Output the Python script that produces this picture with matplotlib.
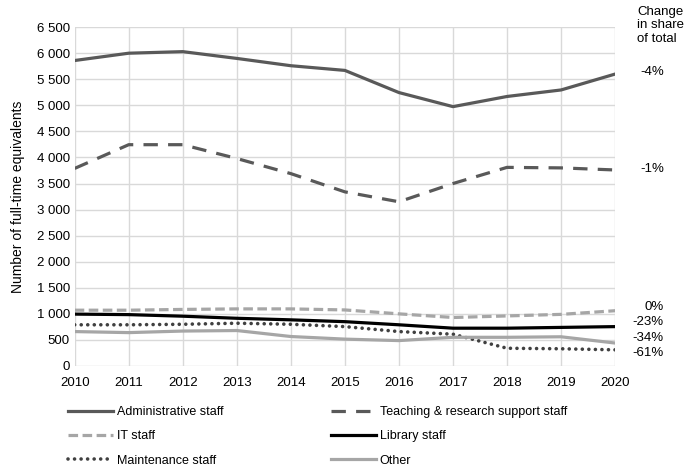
import matplotlib.pyplot as plt
from matplotlib.ticker import FuncFormatter
import matplotlib.transforms as mtransforms

plt.rcParams['font.family'] = ['Liberation Sans', 'DejaVu Sans']

# Data
years = [2010, 2011, 2012, 2013, 2014, 2015, 2016, 2017, 2018, 2019, 2020]
administrative = [5860, 6000, 6030, 5900, 5760, 5670, 5245, 4975, 5170, 5295, 5600]
teaching = [3790, 4245, 4245, 3980, 3690, 3340, 3150, 3500, 3810, 3800, 3760]
it_staff = [1070, 1070, 1085, 1095, 1095, 1075, 1000, 930, 960, 990, 1060]
library = [995, 985, 955, 915, 885, 850, 790, 725, 725, 740, 755]
maintenance = [790, 790, 800, 820, 800, 755, 660, 610, 340, 330, 310]
other = [660, 640, 670, 680, 565, 515, 487, 550, 550, 560, 440]

share_labels = ['-4%', '-1%', '0%', '-23%', '-34%', '-61%']
share_label_y = [5640, 3780, 1130, 840, 540, 250]

fig = plt.figure(figsize=(6.85, 4.68), dpi=100)
ax = fig.add_axes([0.109, 0.218, 0.789, 0.724])

dark = '#595959'
light = '#a6a6a6'
lw = 2.3

h_adm, = ax.plot(years, administrative, color=dark, lw=lw, label='Administrative staff')
h_tea, = ax.plot(years, teaching, color=dark, lw=lw, dashes=(4.5, 3.2), label='Teaching & research support staff')
h_it, = ax.plot(years, it_staff, color=light, lw=lw, dashes=(3, 1.4), label='IT staff')
h_lib, = ax.plot(years, library, color='black', lw=lw, label='Library staff')
h_mai, = ax.plot(years, maintenance, color='#404040', lw=2.6, dashes=(0.01, 1.8),
                 dash_capstyle='round', label='Maintenance staff')
h_oth, = ax.plot(years, other, color=light, lw=lw, label='Other')

ax.set_xlim(2010, 2020)
ax.set_ylim(0, 6500)
ax.set_xticks(years)
ax.set_yticks(range(0, 6501, 500))
ax.yaxis.set_major_formatter(FuncFormatter(lambda v, p: f'{int(v):,}'.replace(',', ' ')))
ax.grid(True, color='#d9d9d9', lw=1)
ax.set_axisbelow(True)
for s in ax.spines.values():
    s.set_visible(False)
ax.tick_params(length=0, labelsize=9.5, colors='black')
ax.tick_params(axis='x', pad=8)
ax.set_ylabel('Number of full-time equivalents', fontsize=10, labelpad=8)

# Right-hand annotations
trans = mtransforms.blended_transform_factory(ax.transAxes, ax.transData)
fig.text(0.930, 0.988, 'Change\nin share\nof total', fontsize=9.5, va='top', ha='left', linespacing=1.2)
for lab, y in zip(share_labels, share_label_y):
    ax.text(1.09, y, lab, transform=trans, fontsize=9.5, ha='right', va='center')

# legend filled row by row (column-major order for matplotlib)
handles = [h_adm, h_it, h_mai, h_tea, h_lib, h_oth]
fig.legend(handles=handles, labels=[h.get_label() for h in handles],
           loc='upper left', bbox_to_anchor=(0.092, 0.143), ncol=2, frameon=False,
           fontsize=9, handlelength=3.6, handletextpad=0.3, columnspacing=8.6,
           labelspacing=0.98, borderaxespad=0)

fig.savefig('out.png', dpi=100)
